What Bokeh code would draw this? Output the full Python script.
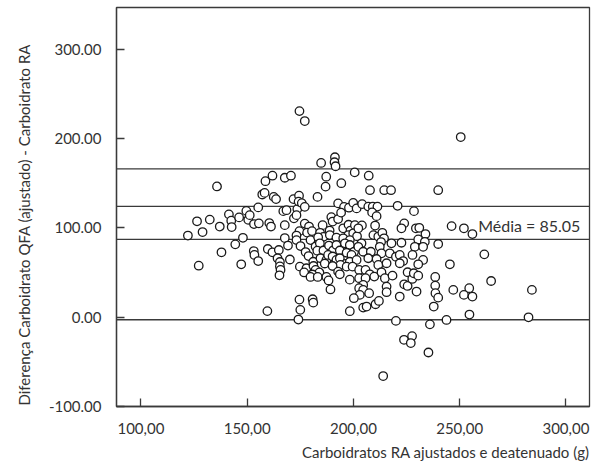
from bokeh.plotting import figure
from bokeh.models import Span, Label, Title, FixedTicker, ColumnDataSource
from bokeh.embed import file_html
from bokeh.resources import INLINE

# ---- data ----
x_left = [122.1, 126.4, 127.2, 129.0, 132.4, 135.8, 137.1, 137.9, 141.4, 142.5, 142.7, 144.4,
          146.2, 147.2, 148.0, 149.6, 150.5, 151.2, 153.2, 155.2, 155.5, 153.1, 153.4, 155.2,
          157.1, 158.2, 158.6, 159.7, 159.5, 160.4, 161.2, 161.9, 161.9, 162.5, 163.6, 164.9,
          164.3, 165.4, 165.4, 165.7, 165.2, 167.0, 168.5, 167.7, 170.6, 167.7, 167.7, 169.2,
          170.1, 171.8, 174.4, 172.0, 173.6, 174.2, 175.7, 177.1, 173.2, 174.6, 173.2, 173.2,
          175.1, 174.8, 174.6, 175.0, 174.1, 174.6, 177.1]
y_left = [91.5, 107.5, 57.7, 95.4, 109.4, 146.6, 101.6, 72.7, 115.3, 108.2, 101.0, 81.6,
          111.9, 59.2, 89.0, 119.2, 109.2, 114.4, 104.4, 123.1, 105.2, 74.1, 69.7, 62.9,
          137.6, 139.4, 152.5, 76.4, 6.7, 105.5, 101.6, 158.7, 72.7, 134.9, 132.4, 75.3,
          66.0, 61.8, 56.8, 52.9, 46.9, 118.9, 120.0, 156.4, 158.7, 103.2, 88.7, 80.3,
          64.6, 132.4, 136.3, 110.8, 121.2, 129.6, 127.9, 123.7, 114.4, 96.5, 91.5, 86.4,
          79.7, 56.6, 19.6, 8.1, -2.8, 231.2, 220.0]

x_upper = [184.8, 191.3, 191.1, 191.6, 187.2, 186.9, 194.3, 183.1, 200.6, 207.2, 207.8,
           214.5, 217.7, 239.9, 250.5]
y_upper = [173.0, 179.4, 173.8, 169.3, 157.6, 146.4, 150.3, 134.9, 162.4, 158.7, 142.4,
           142.4, 142.4, 142.4, 202.1]

x_mid = [192.8, 195.6, 197.9, 199.9, 201.5, 204.1, 207.0, 209.1, 211.3, 208.8, 210.9, 220.8,
         228.5, 189.6, 190.2, 192.8, 194.2, 188.8, 185.5, 177.1, 179.1, 178.2, 180.5, 179.8,
         184.3, 185.9, 188.9, 192.0, 195.2, 197.7, 198.6, 200.7, 204.0, 197.6, 199.9, 195.2,
         201.7, 209.4, 211.7, 210.2, 202.3, 183.4, 223.9, 222.6, 229.4, 231.0, 233.9, 246.2,
         252.0, 256.0, 213.6, 214.4, 213.0, 230.5, 233.6, 239.9, 217.9, 222.6, 203.8, 198.3]
y_mid = [127.6, 123.7, 122.8, 128.2, 122.0, 126.8, 124.0, 124.0, 124.0, 117.5, 113.3, 124.9,
         118.9, 112.2, 107.2, 110.0, 117.2, 97.1, 103.2, 104.9, 101.6, 94.8, 96.5, 86.4,
         94.6, 90.1, 92.0, 89.2, 99.6, 103.6, 97.1, 103.2, 102.9, 92.0, 94.0, 88.4,
         90.7, 92.0, 90.4, 102.7, 99.6, 89.5, 105.2, 99.6, 99.6, 100.2, 93.2, 102.1,
         99.6, 93.2, 94.6, 88.4, 84.2, 87.2, 84.5, 82.0, 82.8, 83.4, 82.8, 86.4]

x_band = [177.5, 178.9, 182.2, 184.2, 183.0, 185.9, 188.5, 190.4, 192.0, 193.6, 196.0, 198.3,
          196.8, 200.3, 202.3, 204.6, 208.2, 212.4, 213.2, 217.1, 228.9, 232.8, 199.1]
y_band = [73.0, 68.5, 79.2, 82.8, 74.5, 74.7, 80.3, 74.7, 80.9, 74.7, 82.8, 80.9,
          72.2, 73.3, 78.9, 73.3, 73.3, 78.9, 71.6, 71.6, 78.9, 78.9, 69.7]

x_low = [181.1, 184.5, 187.3, 186.5, 188.1, 190.2, 192.0, 193.6, 196.3, 198.3, 193.9, 201.5,
         177.9, 181.2, 182.2, 184.0, 180.7, 176.8, 179.8, 183.2, 190.2, 192.8, 193.6, 196.8,
         199.6, 187.3, 188.3, 198.3, 189.2, 207.0, 210.9, 211.7, 202.7, 205.7, 207.7, 209.8,
         213.2, 202.7, 205.7, 214.8, 204.6, 202.7, 204.6, 207.4, 203.0, 210.4, 212.0, 204.6,
         206.2, 215.6, 215.6, 218.4, 215.6, 220.0, 221.8, 223.4, 221.8, 227.8, 232.8, 230.5,
         245.4, 225.5, 223.9, 225.5, 221.8, 227.7, 228.4, 230.5, 229.7, 238.5, 238.5, 238.6,
         239.9, 237.8, 247.0, 254.5, 252.0, 256.0, 254.6, 261.6, 264.8, 284.0, 282.4]
y_low = [62.1, 66.0, 64.1, 60.1, 69.7, 68.0, 64.1, 66.0, 59.6, 62.1, 58.5, 64.1,
         54.8, 57.3, 52.9, 50.1, 47.8, 50.1, 45.0, 45.0, 57.3, 51.0, 48.0, 56.6,
         56.6, 45.0, 41.1, 42.0, 31.0, 66.0, 65.2, 58.5, 52.9, 52.9, 48.0, 45.4,
         50.3, 43.6, 43.6, 43.6, 36.1, 32.4, 30.5, 26.8, 24.9, 14.4, 18.1, 10.6,
         11.8, 34.2, 27.9, 46.5, 60.4, 67.7, 69.7, 62.9, 60.4, 69.7, 64.1, 59.2,
         59.2, 50.3, 36.8, 34.9, 23.0, 42.8, 49.2, 46.5, 28.6, 45.0, 35.3, 26.8,
         21.8, 11.8, 30.5, 32.4, 24.9, 23.0, 2.8, 70.4, 40.5, 30.5, -0.3]

x_out = [180.8, 181.1, 198.3, 200.2, 220.0, 236.0, 243.8, 223.8, 227.6, 227.0, 235.3, 214.0]
y_out = [20.0, 16.2, 6.6, 21.2, -4.3, -8.2, -3.2, -25.5, -21.4, -29.2, -39.8, -66.2]

ref_lines = [166.3, 124.2, 87.1, -3.0]
mean_text = "Média = 85.05"

x_ticks = [100, 150, 200, 250, 300]
x_tick_labels = ["100,00", "150,00", "200,00", "250,00", "300,00"]
y_ticks = [-100, 0, 100, 200, 300]
y_tick_labels = ["-100.00", "0.00", "100.00", "200.00", "300.00"]

x_title = "Carboidratos RA ajustados e deatenuado (g)"
y_title = "Diferença Carboidrato QFA (ajustado) - Carboidrato RA"

# ---- chart ----
FONT = "Lato"
TXT = "#333333"
LINE = "#3a3a3a"

xs = x_left + x_upper + x_mid + x_band + x_low + x_out
ys = y_left + y_upper + y_mid + y_band + y_low + y_out
src = ColumnDataSource(data=dict(x=xs, y=ys))

p = figure(width=598, height=469, x_range=(88.5, 311.1), y_range=(-100.4, 347.5),
           output_backend="svg", toolbar_location=None,
           min_border_left=116, min_border_right=9, min_border_top=7, min_border_bottom=63)

p.background_fill_color = "white"
p.border_fill_color = "white"
p.outline_line_color = LINE
p.outline_line_width = 1.3
p.grid.visible = False

for val in ref_lines:
    p.add_layout(Span(location=val, dimension="width", line_color=LINE,
                      line_width=1.3, level="underlay"))

p.scatter("x", "y", source=src, marker="circle", size=8.5, fill_color="white",
          line_color="#1a1a1a", line_width=1.3)

p.add_layout(Label(x=306.8, y=102.5, text=mean_text, text_align="right",
                   text_baseline="middle", text_font=FONT, text_font_size="16px",
                   text_color=TXT))

for ax, ticks, labels in ((p.xaxis[0], x_ticks, x_tick_labels), (p.yaxis[0], y_ticks, y_tick_labels)):
    ax.ticker = FixedTicker(ticks=ticks)
    ax.major_label_overrides = {t: l for t, l in zip(ticks, labels)}
    ax.major_tick_in = 8
    ax.major_tick_out = 0
    ax.minor_tick_line_color = None
    ax.axis_line_color = LINE
    ax.axis_line_width = 1.3
    ax.major_tick_line_color = LINE
    ax.major_tick_line_width = 1.3
    ax.major_label_text_font = FONT
    ax.major_label_text_font_size = "15px"
    ax.major_label_text_color = TXT

p.xaxis.major_label_standoff = 16
p.yaxis.major_label_standoff = 15

p.add_layout(Title(text=y_title, align="left", offset=1, vertical_align="top",
                   text_font=FONT, text_font_size="15px", text_font_style="normal",
                   text_color=TXT, standoff=22), "left")

p.add_layout(Title(text=x_title, align="right", text_font=FONT, text_font_size="15px",
                   text_font_style="normal", text_color=TXT, standoff=8), "below")

open("out.html", "w").write(file_html(p, INLINE))
